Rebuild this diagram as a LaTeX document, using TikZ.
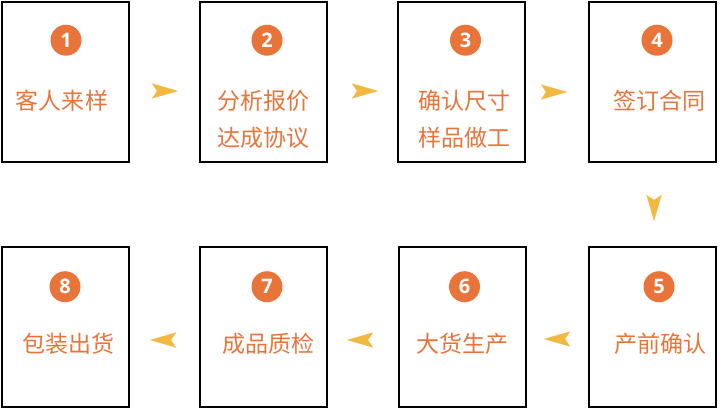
\documentclass[tikz,border=0pt]{standalone}
\usepackage{fontspec}
\newfontfamily\cjkfont{Noto Sans CJK SC}
\newfontfamily\numfont{Open Sans}
\usetikzlibrary{
	arrows.meta,
	positioning
}
\definecolor{dotorange}{RGB}{232,116,58}
\definecolor{tipyellow}{RGB}{242,185,66}

\begin{document}
\begin{tikzpicture}[
		x = 1bp, y = 1bp,
		node distance = 71bp and 71bp,
		stepbox/.style={
			draw,
			line width = 1.2bp,
			rectangle,
			minimum width = 127bp,
			minimum height = 160bp,
			inner sep = 0pt,
			outer sep = 0pt
		},
		numdot/.style={
			circle,
			fill = dotorange,
			text = white,
			minimum size = 31bp,
			inner sep = 0pt,
			font = \numfont\bfseries\fontsize{20bp}{20bp}\selectfont
		},
		steptext/.style={
			text = dotorange,
			inner sep = 0pt,
			align = center,
			font = \cjkfont\fontsize{23bp}{37bp}\selectfont
		},
		flow/.style={
			draw = tipyellow,
			line width = 0.01pt,
			-{Stealth[length = 26bp, width = 15bp, inset = 5bp, fill = tipyellow]}
		}
		]
		
		\useasboundingbox (0,0) rectangle (720,-410);
		
		\node[stepbox] (b1) at (65.5,-82) {};
		\node[stepbox, right = 71bp of b1] (b2) {};
		\node[stepbox, right = 71bp of b2] (b3) {};
		\node[stepbox, right = 64bp of b3] (b4) {};
		\node[stepbox, below = 85bp of b4] (b5) {};
		\node[stepbox, left = 63bp of b5] (b6) {};
		\node[stepbox, left = 72bp of b6] (b7) {};
		\node[stepbox, left = 71bp of b7] (b8) {};
		
		\node[numdot, below = 22.5bp of b1.north, xshift = 0.5bp] (n1) {1};
		\node[numdot, below = 22.5bp of b2.north, xshift = 3.5bp] (n2) {2};
		\node[numdot, below = 22.5bp of b3.north, xshift = 4bp] (n3) {3};
		\node[numdot, below = 22.5bp of b4.north, xshift = 4.5bp] (n4) {4};
		\node[numdot, below = 24bp of b5.north, xshift = 6.5bp] (n5) {5};
		\node[numdot, below = 24bp of b6.north, xshift = 2bp] (n6) {6};
		\node[numdot, below = 24bp of b7.north, xshift = 3.5bp] (n7) {7};
		\node[numdot, below = 24bp of b8.north, xshift = -0.5bp] (n8) {8};
		
		\node[steptext, below = 88bp of b1.north, xshift = -3.5bp] (t1) {客人来样};
		\node[steptext, below = 88bp of b2.north] (t2) {分析报价\\达成协议};
		\node[steptext, below = 88bp of b3.north, xshift = 3bp] (t3) {确认尺寸\\样品做工};
		\node[steptext, below = 88bp of b4.north, xshift = 6.5bp] (t4) {签订合同};
		\node[steptext, below = 86bp of b5.north, xshift = 8bp] (t5) {产前确认};
		\node[steptext, below = 86bp of b6.north] (t6) {大货生产};
		\node[steptext, below = 86bp of b7.north, xshift = 4.5bp] (t7) {成品质检};
		\node[steptext, below = 86bp of b8.north, xshift = 2.5bp] (t8) {包装出货};
		
		\draw[flow, shorten <= 23bp, shorten >= 22bp] ([yshift = -9bp]b1.east) -- ([yshift = -9bp]b2.west);
		\draw[flow, shorten <= 25bp, shorten >= 20bp] ([yshift = -9bp]b2.east) -- ([yshift = -9bp]b3.west);
		\draw[flow, shorten <= 16bp, shorten >= 22bp] ([yshift = -10bp]b3.east) -- ([yshift = -10bp]b4.west);
		\draw[flow, shorten <= 33bp, shorten >= 26bp] ([xshift = 1.5bp]b4.south) -- ([xshift = 1.5bp]b5.north);
		\draw[flow, shorten <= 18bp, shorten >= 18bp] ([yshift = -12bp]b5.west) -- ([yshift = -12bp]b6.east);
		\draw[flow, shorten <= 25bp, shorten >= 20bp] ([yshift = -13bp]b6.west) -- ([yshift = -13bp]b7.east);
		\draw[flow, shorten <= 24bp, shorten >= 21bp] ([yshift = -13bp]b7.west) -- ([yshift = -13bp]b8.east);
	\end{tikzpicture}
\end{document}
